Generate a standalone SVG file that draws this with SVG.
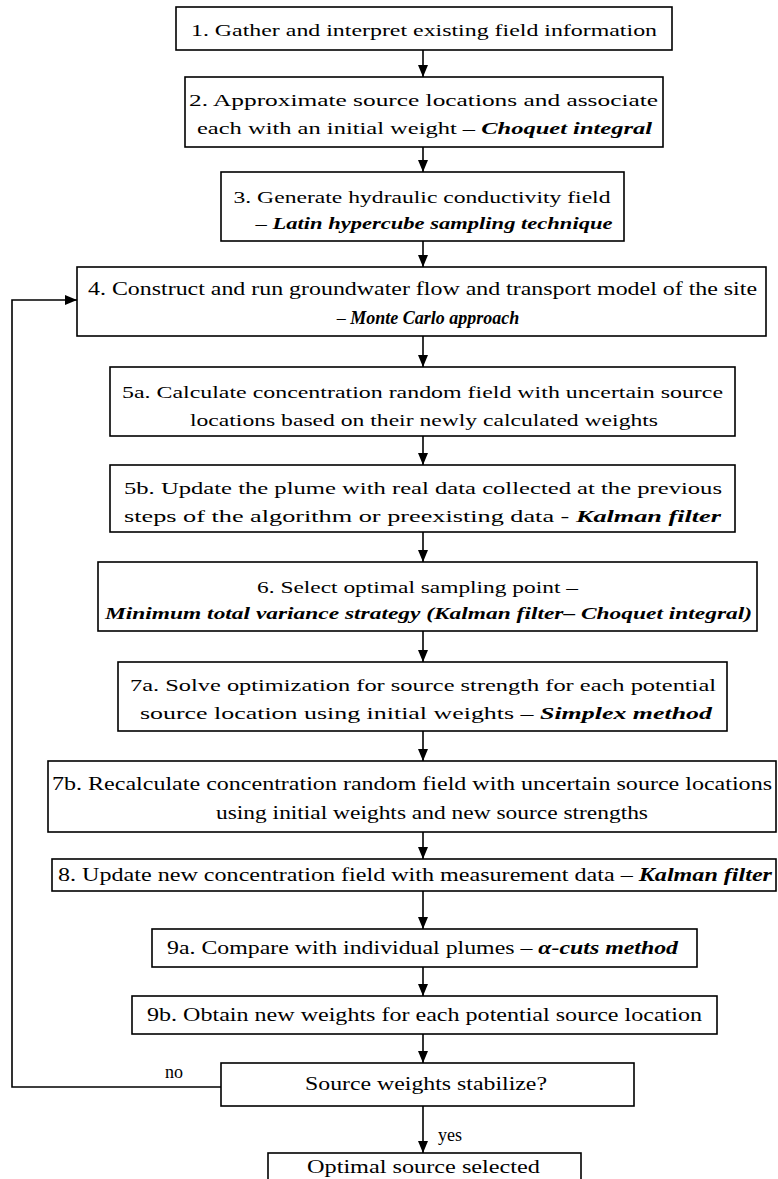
<svg xmlns="http://www.w3.org/2000/svg" width="778" height="1179" viewBox="0 0 778 1179">
<style>
.box{fill:#fff;stroke:#000;stroke-width:1.6}
.t{font-family:"Liberation Serif","Times New Roman",serif;font-size:17px;fill:#000}
.n{font-size:18px}
.bi{font-weight:bold;font-style:italic}
.c{stroke:#000;stroke-width:1.6;fill:none}
</style>
<defs>
<marker id="ah" viewBox="0 0 12 10" refX="12" refY="5" markerWidth="12" markerHeight="10" markerUnits="userSpaceOnUse" orient="auto">
<path d="M0,0 L12,5 L0,10 z" fill="#000"/>
</marker>
</defs>
<rect width="778" height="1179" fill="#fff"/>
<g id="connectors">
<line class="c" x1="423" y1="50" x2="423" y2="77" marker-end="url(#ah)"/>
<line class="c" x1="423" y1="147" x2="423" y2="172" marker-end="url(#ah)"/>
<line class="c" x1="423" y1="241" x2="423" y2="267" marker-end="url(#ah)"/>
<line class="c" x1="423" y1="336" x2="423" y2="367" marker-end="url(#ah)"/>
<line class="c" x1="423" y1="436" x2="423" y2="465" marker-end="url(#ah)"/>
<line class="c" x1="423" y1="532" x2="423" y2="562" marker-end="url(#ah)"/>
<line class="c" x1="423" y1="631" x2="423" y2="662" marker-end="url(#ah)"/>
<line class="c" x1="423" y1="731" x2="423" y2="761" marker-end="url(#ah)"/>
<line class="c" x1="423" y1="832" x2="423" y2="859" marker-end="url(#ah)"/>
<line class="c" x1="423" y1="891" x2="423" y2="929" marker-end="url(#ah)"/>
<line class="c" x1="423" y1="967" x2="423" y2="996" marker-end="url(#ah)"/>
<line class="c" x1="423" y1="1034" x2="423" y2="1063" marker-end="url(#ah)"/>
<line class="c" x1="423" y1="1106" x2="423" y2="1153" marker-end="url(#ah)"/>
<path class="c" d="M221,1087 H12 V300 H77" marker-end="url(#ah)"/>
<text class="t n" x="165" y="1078">no</text>
<text class="t n" x="438" y="1141">yes</text>
</g>
<g id="n1"><rect class="box" x="176" y="7" width="496" height="43"/>
<text class="t" x="424" y="36" text-anchor="middle" textLength="466" lengthAdjust="spacingAndGlyphs">1. Gather and interpret existing field information</text></g>
<g id="n2"><rect class="box" x="185" y="77" width="478" height="70"/>
<text class="t" x="423.5" y="106" text-anchor="middle" textLength="469" lengthAdjust="spacingAndGlyphs">2. Approximate source locations and associate</text>
<text class="t" x="424.5" y="134" text-anchor="middle" textLength="455" lengthAdjust="spacingAndGlyphs">each with an initial weight – <tspan class="bi">Choquet integral</tspan></text></g>
<g id="n3"><rect class="box" x="221" y="172" width="403" height="69"/>
<text class="t" x="422" y="203" text-anchor="middle" textLength="377" lengthAdjust="spacingAndGlyphs">3. Generate hydraulic conductivity field</text>
<text class="t" x="434" y="229" text-anchor="middle" textLength="357" lengthAdjust="spacingAndGlyphs">– <tspan class="bi">Latin hypercube sampling technique</tspan></text></g>
<g id="n4"><rect class="box" x="77" y="267" width="689" height="69"/>
<text class="t n" x="422.5" y="295" text-anchor="middle" textLength="669" lengthAdjust="spacingAndGlyphs">4. Construct and run groundwater flow and transport model of the site</text>
<text class="t n" x="428" y="324" text-anchor="middle">– <tspan class="bi">Monte Carlo approach</tspan></text></g>
<g id="n5a"><rect class="box" x="110" y="367" width="625" height="69"/>
<text class="t" x="422.5" y="398" text-anchor="middle" textLength="601" lengthAdjust="spacingAndGlyphs">5a. Calculate concentration random field with uncertain source</text>
<text class="t" x="424" y="426" text-anchor="middle" textLength="468" lengthAdjust="spacingAndGlyphs">locations based on their newly calculated weights</text></g>
<g id="n5b"><rect class="box" x="110" y="465" width="625" height="67"/>
<text class="t" x="423" y="494" text-anchor="middle" textLength="598" lengthAdjust="spacingAndGlyphs">5b. Update the plume with real data collected at the previous</text>
<text class="t" x="422.5" y="522" text-anchor="middle" textLength="597" lengthAdjust="spacingAndGlyphs">steps of the algorithm or preexisting data - <tspan class="bi">Kalman filter</tspan></text></g>
<g id="n6"><rect class="box" x="98" y="562" width="659" height="69"/>
<text class="t" x="417.5" y="593" text-anchor="middle" textLength="321" lengthAdjust="spacingAndGlyphs">6. Select optimal sampling point –</text>
<text class="t bi" x="428.5" y="619" text-anchor="middle" textLength="647" lengthAdjust="spacingAndGlyphs">Minimum total variance strategy (Kalman filter– Choquet integral)</text></g>
<g id="n7a"><rect class="box" x="118" y="662" width="609" height="69"/>
<text class="t" x="423" y="691" text-anchor="middle" textLength="586" lengthAdjust="spacingAndGlyphs">7a. Solve optimization for source strength for each potential</text>
<text class="t" x="426" y="719" text-anchor="middle" textLength="572" lengthAdjust="spacingAndGlyphs">source location using initial weights – <tspan class="bi">Simplex method</tspan></text></g>
<g id="n7b"><rect class="box" x="48" y="761" width="728" height="71"/>
<text class="t n" x="412" y="790" text-anchor="middle" textLength="720" lengthAdjust="spacingAndGlyphs">7b. Recalculate concentration random field with uncertain source locations</text>
<text class="t n" x="432" y="819" text-anchor="middle" textLength="432" lengthAdjust="spacingAndGlyphs">using initial weights and new source strengths</text></g>
<g id="n8"><rect class="box" x="52" y="859" width="724" height="32"/>
<text class="t n" x="415" y="881" text-anchor="middle" textLength="714" lengthAdjust="spacingAndGlyphs">8. Update new concentration field with measurement data – <tspan class="bi">Kalman filter</tspan></text></g>
<g id="n9a"><rect class="box" x="152" y="929" width="545" height="38"/>
<text class="t n" x="422.5" y="954" text-anchor="middle" textLength="511" lengthAdjust="spacingAndGlyphs">9a. Compare with individual plumes – <tspan class="bi">α-cuts method</tspan></text></g>
<g id="n9b"><rect class="box" x="132" y="996" width="585" height="38"/>
<text class="t n" x="424.5" y="1021" text-anchor="middle" textLength="555" lengthAdjust="spacingAndGlyphs">9b. Obtain new weights for each potential source location</text></g>
<g id="nd"><rect class="box" x="221" y="1063" width="413" height="43"/>
<text class="t n" x="426" y="1090" text-anchor="middle" textLength="242" lengthAdjust="spacingAndGlyphs">Source weights stabilize?</text></g>
<g id="nf"><rect class="box" x="268" y="1153" width="313" height="40"/>
<text class="t n" x="423.5" y="1173" text-anchor="middle" textLength="233" lengthAdjust="spacingAndGlyphs">Optimal source selected</text></g>
</svg>
